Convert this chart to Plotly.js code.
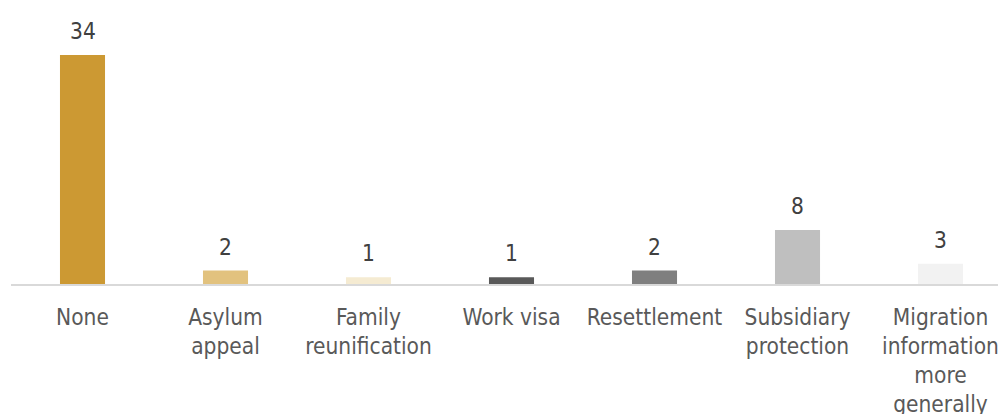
<!DOCTYPE html>
<html><head><meta charset="utf-8">
<script src="https://cdn.plot.ly/plotly-3.0.1.min.js"></script>
<style>body{margin:0;background:#fff}#c{width:998px;height:414px}</style>
</head><body><div id="c"></div>
<script>
const categories = ["None","Asylum<br>appeal","Family<br>reunification","Work visa","Resettlement","Subsidiary<br>protection","Migration<br>information<br>more<br>generally"];
const values = [34,2,1,1,2,8,3];
const colors = ["#CC9933","#E2C27E","#F5EBD2","#595959","#7F7F7F","#BFBFBF","#F2F2F2"];
const FONT = "DejaVu Sans Condensed, DejaVu Sans, sans-serif";
const xs = categories.map((c,i)=>i);
Plotly.newPlot("c",[{
  type:"bar", x:xs, y:values,
  marker:{color:colors},
  hoverinfo:"none"
}],{
  width:998,height:414,
  margin:{l:11,r:0,t:10,b:129.5},
  paper_bgcolor:"#fff",plot_bgcolor:"#fff",
  bargap:0.685, showlegend:false,
  xaxis:{tickmode:"array",tickvals:xs,ticktext:categories,
    range:[-0.5,6.402],showgrid:false,zeroline:false,
    showline:true,linecolor:"#D9D9D9",linewidth:1.5,ticks:"",
    ticklabelstandoff:12, ticklabeloverflow:"allow",
    tickfont:{family:FONT,size:22.5,color:"#595959"}},
  yaxis:{range:[0,40.67],visible:false,showgrid:false,zeroline:false},
  annotations: values.map((v,i)=>({x:i,y:v,xref:"x",yref:"y",text:String(v),showarrow:false,
    yanchor:"bottom",yshift:9,font:{family:FONT,size:22.5,color:"#404040"}}))
},{displayModeBar:false,staticPlot:true});
</script></body></html>
